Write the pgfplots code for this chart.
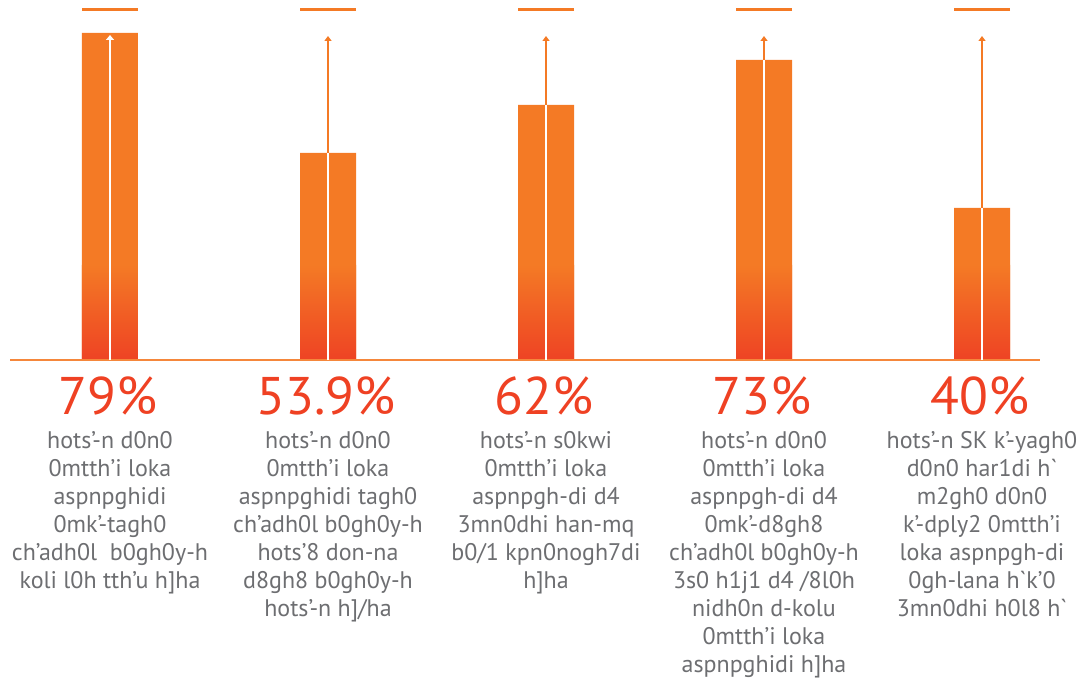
\documentclass[border=0pt]{standalone}
\usepackage{pgfplots}
\pgfplotsset{compat=1.18}
\usepackage{fontspec}
\setmainfont{PT Sans}
\usetikzlibrary{arrows.meta}
\definecolor{bo}{HTML}{F47A25}
\definecolor{br}{HTML}{EE4324}
\definecolor{pr}{HTML}{EF4123}
\definecolor{tg}{HTML}{6D6E71}
\begin{document}
\begin{tikzpicture}[x=1pt,y=1pt]
\useasboundingbox (0,0) rectangle (1089,679);
\begin{axis}[at={(10pt,319pt)}, anchor=south west,
  width=1030pt, height=360pt, scale only axis,
  xmin=-0.4587, xmax=4.2661, ymin=0, ymax=360,
  axis lines=none, xtick=\empty, ytick=\empty, clip=false]
\addplot[ybar, bar width=56pt, draw=none, fill=bo]
  coordinates {(0,327) (1,207) (2,255) (3,300) (4,152)};
% gradient band at the foot of every bar
\addplot[ybar, bar width=56pt, draw=none, top color=bo, middle color=bo!60!br, bottom color=br]
  coordinates {(0,95) (1,95) (2,95) (3,95) (4,95)};
\addplot[bo!90!white, line width=2.2pt] coordinates {(-0.4587,0) (4.2661,0)};
% arrows
\addplot[white, line width=2.6pt, -{Triangle[width=8pt,length=5pt]}] coordinates {(0,0) (0,325)};
\addplot[white, line width=2.6pt] coordinates {(1,0) (1,207)};
\addplot[bo, line width=2.2pt, -{Triangle[width=7pt,length=5pt]}] coordinates {(1,207) (1,324)};
\addplot[white, line width=2.6pt] coordinates {(2,0) (2,255)};
\addplot[bo, line width=2.2pt, -{Triangle[width=7pt,length=5pt]}] coordinates {(2,255) (2,324)};
\addplot[white, line width=2.6pt] coordinates {(3,0) (3,300)};
\addplot[bo, line width=2.2pt, -{Triangle[width=7pt,length=5pt]}] coordinates {(3,300) (3,324)};
\addplot[white, line width=2.6pt] coordinates {(4,0) (4,152)};
\addplot[bo, line width=2.2pt, -{Triangle[width=7pt,length=5pt]}] coordinates {(4,152) (4,324)};
% top marks
\addplot[only marks, mark=-, mark size=28pt, mark options={line width=3pt, draw=bo}]
  coordinates {(0,350) (1,350) (2,350) (3,350) (4,350)};
% percentages
\tikzset{pct/.style={anchor=base, inner sep=0pt, text=pr, font=\fontsize{53}{60}\selectfont},
  desc/.style={anchor=north, inner sep=0pt, text=tg, align=center, font=\fontsize{24}{28}\selectfont}}
\node[pct] at (axis cs:-0.01,-55) {79\%};
\node[pct] at (axis cs:-0.01,-55) {};
\node[pct] at (axis cs:0.99,-55) {53.9\%};
\node[pct] at (axis cs:1.99,-55) {62\%};
\node[pct] at (axis cs:2.99,-55) {73\%};
\node[pct] at (axis cs:3.99,-55) {40\%};
\node[desc] at (axis cs:0,-71) {hots’-n d0n0\\0mtth’i loka\\aspnpghidi\\0mk’-tagh0\\ch’adh0l~ b0gh0y-h\\koli l0h tth’u h]ha};
\node[desc] at (axis cs:1,-71) {hots’-n d0n0\\0mtth’i loka\\aspnpghidi tagh0\\ch’adh0l b0gh0y-h\\hots’8 don-na\\d8gh8 b0gh0y-h\\hots’-n h]/ha};
\node[desc] at (axis cs:2,-71) {hots’-n s0kwi\\0mtth’i loka\\aspnpgh-di d4\\3mn0dhi han-mq\\b0/1 kpn0nogh7di\\h]ha};
\node[desc] at (axis cs:3,-71) {hots’-n d0n0\\0mtth’i loka\\aspnpgh-di d4\\0mk’-d8gh8\\ch’adh0l b0gh0y-h\\3s0 h1j1 d4 /8l0h\\nidh0n d-kolu\\0mtth’i loka\\aspnpghidi h]ha};
\node[desc] at (axis cs:4,-71) {hots’-n SK k’-yagh0\\d0n0 har1di h\textasciigrave\\m2gh0 d0n0\\k’-dply2 0mtth’i\\loka aspnpgh-di\\0gh-lana h\textasciigrave k’0\\3mn0dhi h0l8 h\textasciigrave};
\end{axis}
\end{tikzpicture}
\end{document}
